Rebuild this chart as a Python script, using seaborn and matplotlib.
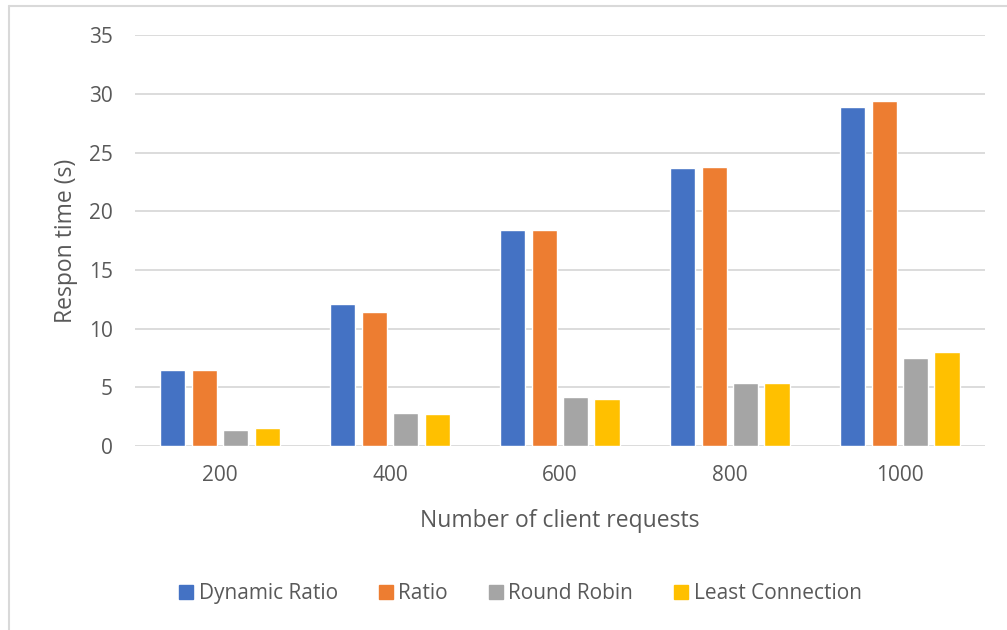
import pandas as pd
import matplotlib.pyplot as plt
import seaborn as sns
from matplotlib.lines import Line2D

requests = ["200", "400", "600", "800", "1000"]
methods = ["Dynamic Ratio", "Ratio", "Round Robin", "Least Connection"]
dynamic_ratio = [6.5, 12.1, 18.4, 23.7, 28.9]
ratio = [6.5, 11.4, 18.4, 23.8, 29.4]
round_robin = [1.35, 2.8, 4.15, 5.4, 7.5]
least_conn = [1.5, 2.7, 4.0, 5.4, 8.0]

colors = ["#4472C4", "#ED7D31", "#A5A5A5", "#FFC000"]
txt = "#595959"

rows = []
for m, vals in zip(methods, [dynamic_ratio, ratio, round_robin, least_conn]):
    for r, v in zip(requests, vals):
        rows.append({"req": r, "method": m, "time": v})
df = pd.DataFrame(rows)

sns.set_theme(style="white")
plt.rcParams["font.family"] = ["Open Sans", "DejaVu Sans"]

fig = plt.figure(figsize=(10.07, 6.3), dpi=100)
ax = fig.add_axes([0.134, 0.292, 0.844, 0.652])

sns.barplot(data=df, x="req", y="time", hue="method", order=requests,
            hue_order=methods, palette=colors, width=0.74, gap=0.2,
            saturation=1, ax=ax, zorder=3)

ax.set_ylim(0, 35)
ax.set_yticks(range(0, 36, 5))
ax.yaxis.grid(True, color="#D9D9D9", linewidth=1.3, zorder=0)
for s in ax.spines.values():
    s.set_visible(False)
ax.tick_params(axis="both", length=0, labelsize=15, colors=txt)
ax.tick_params(axis="x", pad=14)
ax.tick_params(axis="y", pad=16)
ax.set_xlabel("Number of client requests", fontsize=16.5, color=txt, labelpad=16)
ax.set_ylabel("Respon time (s)", fontsize=16.5, color=txt, labelpad=8)

ax.legend_.remove()
handles = [Line2D([], [], marker="s", linestyle="", markersize=10,
                  markerfacecolor=c, markeredgecolor=c) for c in colors]
fig.legend(handles, methods, loc="center", bbox_to_anchor=(0.515, 0.058),
           ncol=4, frameon=False, fontsize=15, labelcolor=txt,
           handletextpad=0.1, columnspacing=1.8, handlelength=1.0)

# partial frame of the cropped chart
fig.add_artist(Line2D([9 / 1007, 9 / 1007], [0, 1 - 6 / 630], color="#D9D9D9", lw=1.5))
fig.add_artist(Line2D([9 / 1007, 1], [1 - 6 / 630, 1 - 6 / 630], color="#D9D9D9", lw=1.5))

fig.savefig("out.png", dpi=100)
